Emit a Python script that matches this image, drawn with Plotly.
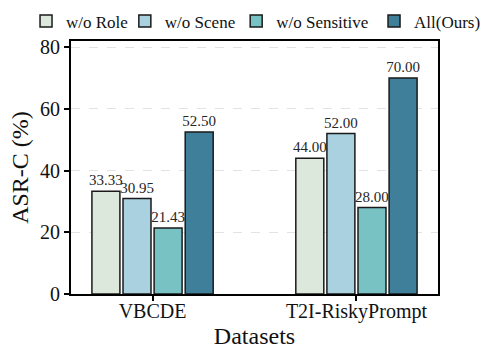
import plotly.graph_objects as go

datasets = ["VBCDE", "T2I-RiskyPrompt"]
series_names = ["w/o Role", "w/o Scene", "w/o Sensitive", "All(Ours)"]
values = {
    "w/o Role": [33.33, 44.00],
    "w/o Scene": [30.95, 52.00],
    "w/o Sensitive": [21.43, 28.00],
    "All(Ours)": [52.50, 70.00],
}
colors = ["#dde8dc", "#a9d1df", "#78c2c4", "#3f7f99"]
y_ticks = [0, 20, 40, 60, 80]

FONT = "Liberation Serif, Times New Roman, serif"
legend_ids = ["legend", "legend2", "legend3", "legend4"]
legend_x = [0.054, 0.259, 0.490, 0.776]

fig = go.Figure()
for name, col, lid in zip(series_names, colors, legend_ids):
    v = values[name]
    fig.add_trace(go.Bar(
        x=datasets, y=v, name=name, legend=lid,
        marker=dict(color=col, line=dict(color="#1a1a1a", width=1.5)),
        text=[f"{a:.2f}" for a in v], textposition="outside",
        constraintext="none",
        textfont=dict(family=FONT, size=15, color="#262626"),
        cliponaxis=False,
    ))

legend_common = dict(orientation="h", xanchor="left", xref="container",
                     y=0.99, yanchor="top", yref="container",
                     font=dict(family=FONT, size=17), itemwidth=30,
                     bgcolor="rgba(0,0,0,0)")
fig.update_layout(
    width=482, height=349,
    margin=dict(l=71, r=44, t=41, b=55, autoexpand=False),
    barmode="group", bargap=0.39, bargroupgap=0.1,
    plot_bgcolor="white", paper_bgcolor="white",
    font=dict(family=FONT, color="#111"),
    showlegend=True,
)
for lid, lx in zip(legend_ids, legend_x):
    fig.update_layout({lid: dict(legend_common, x=lx)})

fig.update_xaxes(
    range=[-0.4, 1.4], showline=True, linecolor="black", linewidth=2, mirror=True,
    ticks="outside", ticklen=5, tickwidth=2, tickcolor="black",
    tickfont=dict(family=FONT, size=20), ticklabelstandoff=-7,
    title=dict(text="Datasets", font=dict(family=FONT, size=24), standoff=2),
)
fig.update_yaxes(
    range=[0, 82], tickvals=y_ticks, showline=True, linecolor="black", linewidth=2, mirror=True,
    ticks="outside", ticklen=5, tickwidth=1.5, tickcolor="black",
    tickfont=dict(family=FONT, size=20),
    showgrid=True, gridcolor="#e3e3e3", griddash="dash", gridwidth=1,
    zeroline=False,
    title=dict(text="ASR-C (%)", font=dict(family=FONT, size=24), standoff=5),
)
fig.write_html("out.html", config={"displayModeBar": False},
               post_script="document.body.style.margin='0';")
